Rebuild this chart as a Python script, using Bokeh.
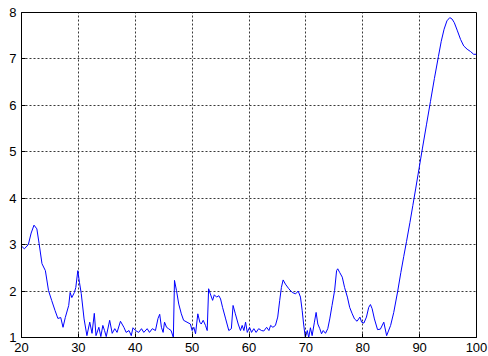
from bokeh.plotting import figure
from bokeh.models import FixedTicker, Range1d
from bokeh.embed import file_html
from bokeh.resources import INLINE

# Sampled signal
x_vals = [20.0, 20.5, 21.2, 21.7, 22.2, 22.7, 23.1, 23.6, 24.2, 24.75, 25.3, 25.9, 26.4, 26.9,
          27.3, 27.7, 28.3, 28.55, 28.85, 29.3, 29.55, 29.9, 30.2, 30.5, 31.0, 31.5, 32.0, 32.4,
          32.8, 33.1, 33.6, 33.95, 34.3, 34.6, 34.9, 35.5, 35.95, 36.4, 36.8, 37.4, 38.0, 38.4,
          38.9, 39.3, 39.6, 40.05, 40.6, 41.1, 41.5, 42.1, 42.5, 43.0, 43.55, 44.0, 44.3, 44.6,
          44.9, 45.15, 45.5, 45.85, 46.3, 46.7, 46.9, 47.25, 47.65, 48.1, 48.5, 49.1, 49.7, 50.0,
          50.3, 50.6, 51.0, 51.35, 51.6, 51.95, 52.35, 52.65, 52.9, 53.2, 53.6, 53.9, 54.3, 54.7,
          55.0, 55.35, 55.9, 56.45, 56.9, 57.2, 57.6, 58.1, 58.5, 58.8, 59.1, 59.4, 59.7, 60.1,
          60.45, 60.85, 61.25, 61.7, 62.2, 62.6, 63.1, 63.5, 63.8, 64.2, 64.65, 65.05, 65.4, 65.7,
          66.0, 66.4, 67.0, 67.6, 68.2, 68.65, 69.05, 69.35, 69.6, 69.9, 70.25, 70.5, 70.8, 71.1,
          71.5, 71.8, 72.1, 72.45, 72.75, 73.05, 73.45, 73.85, 74.2, 74.6, 75.05, 75.4, 75.6,
          75.95, 76.4, 76.8, 77.3, 77.7, 78.15, 78.55, 79.0, 79.5, 79.8, 80.2, 80.65, 81.05,
          81.35, 81.65, 82.05, 82.6, 83.1, 83.7, 84.2, 84.9, 85.45, 86.15, 86.7, 87.2, 87.7,
          88.3, 88.8, 89.3, 89.9, 90.5, 91.2, 91.9, 92.6, 93.3, 93.8, 94.3, 94.8, 95.3, 95.7,
          96.1, 96.6, 97.2, 97.75, 98.35, 98.95, 99.5, 100.0]
y_vals = [2.97, 2.91, 3.00, 3.25, 3.42, 3.34, 3.02, 2.59, 2.44, 2.01, 1.80, 1.58, 1.41, 1.43,
          1.22, 1.43, 1.69, 1.97, 1.86, 1.97, 2.08, 2.44, 2.18, 1.95, 1.40, 1.04, 1.33, 1.09,
          1.52, 1.04, 1.22, 1.02, 1.26, 1.15, 1.02, 1.37, 1.09, 1.19, 1.11, 1.35, 1.22, 1.11,
          1.15, 1.04, 1.21, 1.15, 1.11, 1.19, 1.11, 1.19, 1.11, 1.19, 1.15, 1.41, 1.50, 1.22,
          1.11, 1.33, 1.22, 1.19, 1.15, 1.00, 2.23, 2.01, 1.72, 1.51, 1.37, 1.33, 1.29, 1.15,
          1.22, 1.08, 1.51, 1.33, 1.29, 1.37, 1.26, 1.15, 2.05, 1.94, 1.80, 1.92, 1.87, 1.90,
          1.83, 1.65, 1.40, 1.15, 1.19, 1.69, 1.51, 1.29, 1.15, 1.26, 1.15, 1.33, 1.11, 1.22,
          1.11, 1.19, 1.11, 1.19, 1.15, 1.14, 1.22, 1.15, 1.26, 1.22, 1.26, 1.44, 1.80, 2.08,
          2.24, 2.15, 2.05, 1.97, 1.94, 2.00, 1.87, 1.58, 1.29, 1.00, 1.15, 1.00, 1.21, 1.04,
          1.33, 1.54, 1.29, 1.19, 1.08, 1.15, 1.09, 1.19, 1.40, 1.69, 2.01, 2.44, 2.48,
          2.40, 2.30, 2.08, 1.87, 1.65, 1.51, 1.40, 1.35, 1.44, 1.33, 1.31, 1.44, 1.65,
          1.71, 1.62, 1.40, 1.17, 1.18, 1.33, 1.04, 1.26, 1.54, 2.00, 2.40, 2.74, 3.07,
          3.48, 3.84, 4.20, 4.64, 5.08, 5.58, 6.08, 6.58, 7.05, 7.38, 7.64, 7.82, 7.89, 7.86,
          7.78, 7.62, 7.42, 7.28, 7.21, 7.16, 7.10, 7.10]

x_ticks = [20, 30, 40, 50, 60, 70, 80, 90, 100]
y_ticks = [1, 2, 3, 4, 5, 6, 7, 8]

p = figure(width=488, height=356, output_backend="svg", toolbar_location=None,
           x_range=Range1d(20, 100), y_range=Range1d(1, 8),
           min_border_left=21, min_border_right=12, min_border_top=12, min_border_bottom=19)

p.background_fill_color = "white"
p.border_fill_color = "white"
p.outline_line_color = "black"
p.outline_line_width = 1

p.line(x_vals, y_vals, line_color="#0000ff", line_width=1)

p.xaxis.ticker = FixedTicker(ticks=x_ticks)
p.yaxis.ticker = FixedTicker(ticks=y_ticks)

for ax in (p.xaxis, p.yaxis):
    ax.axis_line_color = "black"
    ax.major_tick_in = 4
    ax.major_tick_out = 0
    ax.minor_tick_line_color = None
    ax.major_tick_line_color = "black"
    ax.major_label_text_font = "Liberation Sans"
    ax.major_label_text_font_size = "13px"
    ax.major_label_text_color = "black"
    ax.major_label_standoff = 5

for g in (p.xgrid, p.ygrid):
    g.grid_line_color = "#222222"
    g.grid_line_dash = "2 2"
    g.grid_line_width = 1
    g.grid_line_alpha = 0.9

open("out.html", "w").write(file_html(p, INLINE))
